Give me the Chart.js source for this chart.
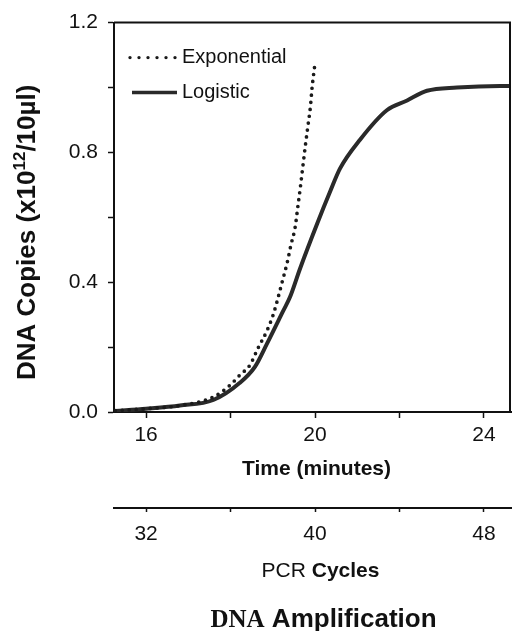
<!DOCTYPE html>
<html>
<head>
<meta charset="utf-8">
<script src="https://cdn.jsdelivr.net/npm/chart.js@4.4.1/dist/chart.umd.min.js"></script>
<style>
  html, body { margin: 0; padding: 0; background: #fff; }
  #wrap { position: relative; width: 512px; height: 631px; }
  canvas { display: block; }
</style>
</head>
<body>
<div id="wrap"><canvas id="c" width="512" height="631"></canvas></div>
<script>
// ---- data ----
const logisticTime  = [15.27, 16.0, 16.8, 17.59, 18.22, 18.58, 18.86, 19.24, 19.41, 19.64, 20.05, 20.36, 20.59, 21.07, 21.70, 22.18, 22.65, 23.36, 24.38, 24.62];
const logisticValue = [0.003, 0.01, 0.02, 0.037, 0.09, 0.14, 0.21, 0.31, 0.355, 0.44, 0.58, 0.68, 0.75, 0.84, 0.93, 0.96, 0.99, 1.0, 1.005, 1.005];

const expTime  = [15.27, 16.0, 16.8, 17.59, 17.99, 18.22, 18.46, 18.65, 18.86, 19.01, 19.12, 19.22, 19.34, 19.43, 19.53, 19.59, 19.65, 19.71, 19.77, 19.83, 19.89, 19.93, 19.99];
const expValue = [0.004, 0.01, 0.02, 0.046, 0.083, 0.114, 0.145, 0.197, 0.25, 0.30, 0.35, 0.40, 0.46, 0.515, 0.57, 0.63, 0.69, 0.755, 0.82, 0.88, 0.94, 1.0, 1.065];

const timeTicks    = [16, 18, 20, 22, 24];
const timeLabels   = [16, 20, 24];
const cycleTicks   = [32, 36, 40, 44, 48];
const cycleLabels  = [32, 40, 48];
const yTicks       = [0, 0.2, 0.4, 0.6, 0.8, 1.0, 1.2];
const yLabels      = [0, 0.4, 0.8, 1.2];

const seriesNames = ['Exponential', 'Logistic'];
const yTitleMain = 'DNA Copies (x10';
const yTitleSup = '12';
const yTitleEnd = '/10µl)';
const xTitle = 'Time (minutes)';
const x2TitleA = 'PCR ';
const x2TitleB = 'Cycles';
const chartTitleA = 'DNA';
const chartTitleB = ' Amplification';

const timeMin = 15.24, timeMax = 24.64;
const cyclesPerMinute = 2;

// ---- build ----
const SANS = '"Liberation Sans", Arial, Helvetica, sans-serif';
const SERIF = '"Liberation Serif", "Times New Roman", serif';
const INK = '#111';

const toXY = (xs, ys) => xs.map((x, i) => ({ x: x, y: ys[i] }));
const has = (arr, v) => arr.some(a => Math.abs(a - v) < 1e-9);

const overlay = {
  id: 'overlay',
  afterDraw(chart) {
    const ctx = chart.ctx;
    const a = chart.chartArea;
    ctx.save();
    // frame: top and right
    ctx.strokeStyle = INK;
    ctx.lineWidth = 2;
    ctx.beginPath();
    ctx.moveTo(a.left, a.top);
    ctx.lineTo(a.right - 1, a.top);
    ctx.lineTo(a.right - 1, a.bottom);
    ctx.stroke();

    // legend
    const lx = a.left + 16, ly1 = a.top + 35, ly2 = a.top + 70;
    ctx.lineCap = 'round';
    ctx.setLineDash([0, 9]);
    ctx.lineWidth = 3.4;
    ctx.strokeStyle = '#1a1a1a';
    ctx.beginPath(); ctx.moveTo(lx, ly1); ctx.lineTo(lx + 46, ly1); ctx.stroke();
    ctx.setLineDash([]);
    ctx.lineCap = 'butt';
    ctx.lineWidth = 3.5;
    ctx.strokeStyle = '#2a2a2a';
    ctx.beginPath(); ctx.moveTo(lx + 2, ly2); ctx.lineTo(lx + 47, ly2); ctx.stroke();
    ctx.fillStyle = INK;
    ctx.font = '20px ' + SANS;
    ctx.textBaseline = 'middle';
    ctx.textAlign = 'left';
    ctx.fillText(seriesNames[0], lx + 52, ly1);
    ctx.fillText(seriesNames[1], lx + 52, ly2);

    // x title
    ctx.textBaseline = 'alphabetic';
    ctx.textAlign = 'center';
    ctx.font = 'bold 21px ' + SANS;
    const cx = (a.left + a.right) / 2 + 4;
    ctx.fillText(xTitle, cx, a.bottom + 63);

    // x2 title (mixed weight)
    ctx.textAlign = 'left';
    const fA = '21px ' + SANS, fB = 'bold 21px ' + SANS;
    ctx.font = fA; const wA = ctx.measureText(x2TitleA).width;
    ctx.font = fB; const wB = ctx.measureText(x2TitleB).width;
    let sx = cx + 4 - (wA + wB) / 2;
    ctx.font = fA; ctx.fillText(x2TitleA, sx, a.bottom + 165);
    ctx.font = fB; ctx.fillText(x2TitleB, sx + wA, a.bottom + 165);

    // chart title (mixed fonts)
    const tA = 'bold 25px ' + SERIF, tB = 'bold 26px ' + SANS;
    ctx.font = tA; const twA = ctx.measureText(chartTitleA).width;
    ctx.font = tB; const twB = ctx.measureText(chartTitleB).width;
    sx = cx + 7 - (twA + twB) / 2;
    ctx.font = tA; ctx.fillText(chartTitleA, sx, a.bottom + 215);
    ctx.font = tB; ctx.fillText(chartTitleB, sx + twA, a.bottom + 215);

    // y title, rotated with superscript
    ctx.translate(35, (a.top + a.bottom) / 2 + 15);
    ctx.rotate(-Math.PI / 2);
    const yf = 'bold 26px ' + SANS, ys = 'bold 17px ' + SANS;
    ctx.font = yf; const m1 = ctx.measureText(yTitleMain).width, m3 = ctx.measureText(yTitleEnd).width;
    ctx.font = ys; const m2 = ctx.measureText(yTitleSup).width;
    let px = -(m1 + m2 + m3) / 2;
    ctx.font = yf; ctx.fillText(yTitleMain, px, 0); px += m1;
    ctx.font = ys; ctx.fillText(yTitleSup, px, -10); px += m2;
    ctx.font = yf; ctx.fillText(yTitleEnd, px, 0);
    ctx.restore();
  }
};

new Chart(document.getElementById('c'), {
  type: 'line',
  data: {
    datasets: [
      {
        label: seriesNames[0],
        data: toXY(expTime, expValue),
        borderColor: '#1a1a1a',
        borderWidth: 3.7,
        borderDash: [0, 7],
        borderCapStyle: 'round',
        pointRadius: 0,
        cubicInterpolationMode: 'monotone',
        fill: false,
        xAxisID: 'x',
        yAxisID: 'y'
      },
      {
        label: seriesNames[1],
        data: toXY(logisticTime, logisticValue),
        borderColor: '#2a2a2a',
        borderWidth: 4,
        pointRadius: 0,
        cubicInterpolationMode: 'monotone',
        fill: false,
        xAxisID: 'x',
        yAxisID: 'y'
      }
    ]
  },
  options: {
    responsive: false,
    animation: false,
    events: [],
    layout: { padding: { top: 22, right: 1, bottom: 0, left: 0 } },
    plugins: { legend: { display: false }, tooltip: { enabled: false }, title: { display: false } },
    scales: {
      x: {
        type: 'linear',
        position: 'bottom',
        min: timeMin, max: timeMax,
        afterBuildTicks: s => { s.ticks = timeTicks.map(v => ({ value: v })); },
        afterFit: s => { s.height = 96; },
        ticks: {
          color: INK, padding: 5, maxRotation: 0, autoSkip: false,
          font: { family: SANS, size: 21 },
          callback: v => has(timeLabels, v) ? String(v) : ''
        },
        grid: { drawOnChartArea: false, drawTicks: true, tickLength: 6, color: INK, tickWidth: 1.5 },
        border: { display: true, color: INK, width: 2 }
      },
      x2: {
        type: 'linear',
        position: 'bottom',
        min: timeMin * cyclesPerMinute, max: timeMax * cyclesPerMinute,
        afterBuildTicks: s => { s.ticks = cycleTicks.map(v => ({ value: v })); },
        afterFit: s => { s.height = 123; },
        ticks: {
          color: INK, padding: 10, maxRotation: 0, autoSkip: false,
          font: { family: SANS, size: 21 },
          callback: v => has(cycleLabels, v) ? String(v) : ''
        },
        grid: { drawOnChartArea: false, drawTicks: true, tickLength: 4, color: INK, tickWidth: 1.5 },
        border: { display: true, color: INK, width: 2 }
      },
      y: {
        type: 'linear',
        min: 0, max: 1.2,
        afterBuildTicks: s => { s.ticks = yTicks.map(v => ({ value: v })); },
        afterFit: s => { s.width = 114; },
        ticks: {
          color: INK, padding: 10, autoSkip: false,
          font: { family: SANS, size: 21 },
          callback: v => has(yLabels, v) ? v.toFixed(1) : ''
        },
        grid: { drawOnChartArea: false, drawTicks: true, tickLength: 6, color: INK, tickWidth: 1.5 },
        border: { display: true, color: INK, width: 2 }
      }
    }
  },
  plugins: [overlay]
});
</script>
</body>
</html>
